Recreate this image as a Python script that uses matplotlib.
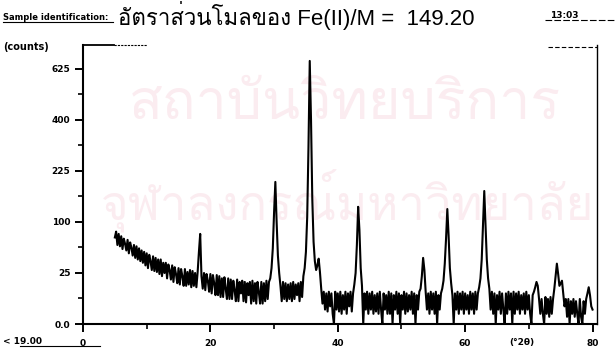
#XRD trace of the Fe(II)/M = 149.20 sample, redrawn from the scanned printout
#y axis of the diffractometer is a square-root scale (0, 25, 100, 225 ...)

import matplotlib
matplotlib.use('Agg')
import matplotlib.pyplot as plt
from matplotlib import font_manager
from matplotlib.ft2font import FT2Font
import numpy as np

scan_start = 5.0 #first point of the trace (deg 2theta)
scan_step = 0.2 #step between points

#counts, one row per degree (5 points each)
counts = [
  72, 82, 60, 78, 58,   #5
  74, 54, 70, 62, 52,   #6
  68, 48, 64, 56, 45,   #7
  60, 42, 58, 40, 55,   #8
  38, 52, 36, 50, 33,   #9
  48, 30, 46, 38, 28,   #10
  44, 27, 42, 26, 40,   #11
  24, 40, 22, 36, 25,   #12
  36, 20, 34, 28, 19,   #13
  33, 17, 31, 24, 16,   #14
  30, 15, 29, 22, 14,   #15
  29, 14, 26, 15, 28,   #16
  13, 27, 14, 25, 13,   #17
  26, 50, 78, 22, 12,   #18
  25, 11, 24, 18, 10,   #19
  24, 9, 23, 16, 8,     #20
  23, 8, 22, 7, 20,     #21
  7, 21, 12, 6, 20,     #22
  6, 19, 6, 18, 11,     #23
  5, 19, 5, 17, 9,      #24
  18, 5, 17, 4.5, 16,   #25
  8, 17, 4, 18, 5,      #26
  16, 4, 17, 10, 4,     #27
  17, 4, 16, 5, 18,     #28
  6, 17, 20, 30, 55,    #29
  120, 194, 100, 45, 25, #30
  14, 5, 17, 6, 16,     #31
  5, 15, 6, 16, 5,      #32
  17, 6, 15, 8, 16,     #33
  5, 17, 7, 22, 30,     #34
  50, 110, 300, 665, 400, #35
  150, 65, 38, 28, 33,  #36
  41, 26, 12, 4, 10,    #37
  2, 9, 1.5, 10, 3,     #38
  9, 1, 0, 10, 2,       #39
  9, 1.5, 10, 1, 8,     #40
  2, 10, 1, 9, 3,       #41
  10, 1.5, 9, 15, 25,   #42
  60, 132, 85, 30, 14,  #43
  0, 9, 2, 10, 1,       #44
  9, 2, 10, 1, 8,       #45
  1.5, 9, 1, 10, 2,     #46
  0, 9, 2, 8, 1,        #47
  10, 1, 9, 0, 8,       #48
  2, 10, 1, 9, 0,       #49
  8, 2, 10, 1, 9,       #50
  1.5, 8, 2, 10, 1,     #51
  9, 0, 8, 2, 10,       #52
  12, 22, 42, 28, 10,   #53
  2, 9, 1, 10, 2,       #54
  9, 1, 10, 0, 8,       #55
  2, 9, 12, 18, 35,     #56
  70, 127, 75, 30, 16,  #57
  8, 0, 9, 2, 10,       #58
  1, 9, 2, 10, 1,       #59
  9, 2, 8, 1, 10,       #60
  2, 9, 1, 10, 2,       #61
  9, 13, 20, 40, 95,    #62
  170, 95, 40, 20, 12,  #63
  2, 10, 1, 9, 0,       #64
  8, 2, 10, 1, 9,       #65
  2, 0, 9, 1, 10,       #66
  2, 9, 0, 10, 1,       #67
  9, 2, 10, 1, 8,       #68
  2, 9, 1, 10, 2,       #69
  8, 1, 0, 8, 10,       #70
  13, 17, 14, 6, 1,     #71
  6, 1, 0, 7, 1,        #72
  6, 0.5, 7, 1, 6,      #73
  12, 22, 35, 24, 14,   #74
  16, 18, 9, 3, 6,      #75
  0.5, 6, 0, 5, 1,      #76
  6, 0.5, 5, 1, 0,      #77
  6, 0.5, 0, 5, 1,      #78
  6, 9, 13, 8, 3,       #79
  2,                    #80
]

ytick_vals = [0, 25, 100, 225, 400, 625]
ytick_labels = ['0.0', '25', '100', '225', '400', '625']
yminor_vals = [6.25, 56.25, 156.25, 306.25, 506.25]
xtick_vals = [0, 20, 40, 60, 80]
xtick_labels = ['0', '20', '40', '60', '80']
xminor_vals = [10, 30, 50, 70]

title_head = 'Sample identification:'
title_text = 'อัตราส่วนโมลของ Fe(II)/M =  149.20'
time_text = '13:03'
ylabel_text = '(counts)'
xunit_text = '(°2θ)'
corner_text = '< 19.00'
mark_rows = ['สถาบันวิทยบริการ', 'จุฬาลงกรณ์มหาวิทยาลัย']

def thai_font(): #find any installed font that has thai glyphs
  for f in font_manager.fontManager.ttflist:
    try:
      if 0x0E2D in FT2Font(f.fname).get_charmap():
        return f.name
    except Exception:
      pass
  return None

thai = thai_font()
title_family = ['Liberation Sans'] + ([thai] if thai else []) + ['DejaVu Sans']

W, H = 615.0, 354.0 #figure size in pixels
def fx(px): return px/W
def fy(py): return 1 - py/H

two_theta = scan_start + scan_step*np.arange(len(counts))

fig = plt.figure(figsize=(6.15, 3.54), dpi=100)
ax = fig.add_axes([fx(83), 30/H, (597-83)/W, (324-45)/H])
ax.set_facecolor('none')

#faint university watermark behind the trace
if thai:
  fig.text(fx(345), fy(105), mark_rows[0], family=title_family, fontsize=40,
           color='#fbecf0', ha='center', va='center', zorder=-1)
  fig.text(fx(348), fy(200), mark_rows[1], family=title_family, fontsize=34,
           color='#fbecf0', ha='center', va='center', zorder=-1)

ax.plot(two_theta, counts, color='black', lw=1.5)

ax.set_yscale('function', functions=(lambda v: np.sqrt(np.clip(v, 0, None)), lambda v: np.square(v)))
ax.set_xlim(0, 80.7)
ax.set_ylim(0, 27.35**2)

ax.set_yticks(ytick_vals)
ax.set_yticklabels(ytick_labels)
ax.set_yticks(yminor_vals, minor=True)
ax.set_xticks(xtick_vals)
ax.set_xticklabels(xtick_labels)
ax.set_xticks(xminor_vals, minor=True)
ax.tick_params(which='major', direction='out', length=6, width=1.4, labelsize=6.5)
ax.tick_params(axis='y', which='major', pad=3)
ax.tick_params(axis='x', which='major', pad=5)
ax.tick_params(which='minor', direction='out', length=3.5, width=1.2)
for lab in ax.get_xticklabels() + ax.get_yticklabels():
  lab.set_fontweight('bold')

ax.spines['top'].set_visible(False)
for s in ['left', 'bottom']:
  ax.spines[s].set_linewidth(1.5)
ax.spines['right'].set_linewidth(1.0)

#short pieces of the frame line along the top
ax.plot([0, 0.06], [1, 1], transform=ax.transAxes, color='black', lw=1.3, clip_on=False)
ax.plot([0.06, 0.125], [1, 1], transform=ax.transAxes, color='black', lw=0.8, ls=(0, (2, 1)), clip_on=False)
fig.add_artist(plt.Line2D([fx(548), fx(597)], [fy(47), fy(47)], color='black', lw=0.8, ls=(0, (4, 2))))

#header and footer text of the printout
fig.text(fx(3), fy(17), title_head, fontsize=6, fontweight='bold', va='center', ha='left')
fig.add_artist(plt.Line2D([fx(3), fx(113)], [fy(22), fy(22)], color='black', lw=0.8))
fig.text(fx(118), fy(16), title_text, family=title_family, fontsize=16, va='center', ha='left')
fig.text(fx(550), fy(15), time_text, fontsize=6.5, fontweight='bold', va='center', ha='left')
fig.add_artist(plt.Line2D([fx(545), fx(614)], [fy(20), fy(20)], color='black', lw=0.8, ls=(0, (6, 2))))
fig.text(fx(3), fy(47), ylabel_text, fontsize=7, fontweight='bold', va='center', ha='left')
fig.text(fx(522), fy(342), xunit_text, fontsize=6.5, fontweight='bold', va='center', ha='center')
fig.text(fx(3), fy(341), corner_text, fontsize=6.5, fontweight='bold', va='center', ha='left')
fig.add_artist(plt.Line2D([fx(20), fx(100)], [fy(346), fy(346)], color='black', lw=0.8))

plt.savefig('out.png', dpi=100)
